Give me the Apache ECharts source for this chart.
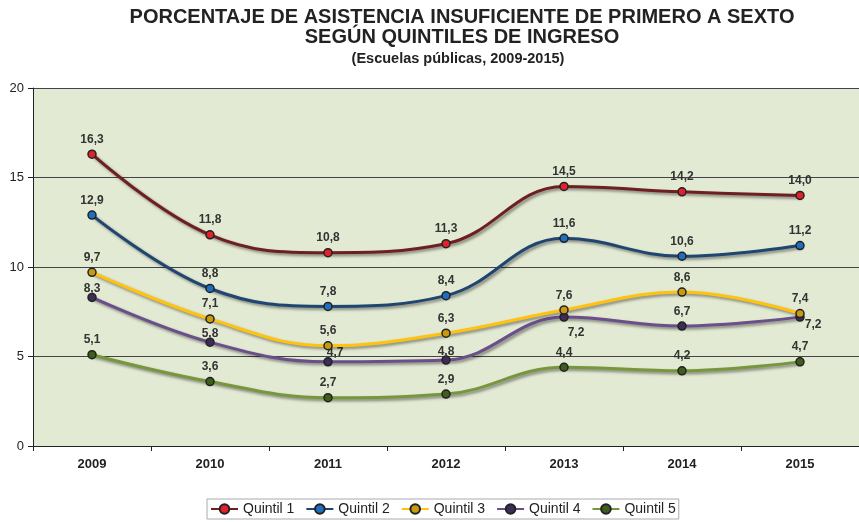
<!DOCTYPE html>
<html>
<head>
<meta charset="utf-8">
<script src="https://cdn.jsdelivr.net/npm/echarts@6/dist/echarts.min.js"></script>
<style>
html, body { margin: 0; padding: 0; background: #fff; }
#main { width: 859px; height: 522px; }
</style>
</head>
<body>
<div id="main"></div>
<script>
// datos
var years = ['2009', '2010', '2011', '2012', '2013', '2014', '2015'];
var names = ['Quintil 1', 'Quintil 2', 'Quintil 3', 'Quintil 4', 'Quintil 5'];
var q1 = [16.3, 11.8, 10.8, 11.3, 14.5, 14.2, 14.0];
var q2 = [12.9, 8.8, 7.8, 8.4, 11.6, 10.6, 11.2];
var q3 = [9.7, 7.1, 5.6, 6.3, 7.6, 8.6, 7.4];
var q4 = [8.3, 5.8, 4.7, 4.8, 7.2, 6.7, 7.2];
var q5 = [5.1, 3.6, 2.7, 2.9, 4.4, 4.2, 4.7];
var yTicks = [0, 5, 10, 15, 20];

var lineColors = ['#6e1f22', '#1f4570', '#ffc20e', '#6a4f8a', '#77973c'];
var dotColors = ['#e3202b', '#1e6fc0', '#c89a10', '#3d2c58', '#3f5e1c'];

// etiquetas especiales del quintil 4
var q4Labels = {
  0: { distance: -2 },
  1: { distance: -2 },
  2: { position: 'right', distance: 0, offset: [-6, -9] },
  3: { distance: -2 },
  4: { position: 'bottom', distance: 5, offset: [12, 0] },
  6: { position: 'right', distance: 0, offset: [0, 8] }
};

var makeSeries = function (i, values) {
  var data = values.map(function (v, j) {
    if (i === 3 && q4Labels[j]) {
      return { value: v, label: q4Labels[j] };
    }
    return v;
  });
  return {
    name: names[i],
    type: 'line',
    smooth: 0.4,
    data: data,
    symbol: 'circle',
    symbolSize: 8,
    lineStyle: {
      width: 3,
      color: lineColors[i],
      shadowColor: 'rgba(0,0,0,0.45)',
      shadowBlur: 3,
      shadowOffsetX: 2,
      shadowOffsetY: 2
    },
    itemStyle: {
      color: dotColors[i],
      borderColor: '#222',
      borderWidth: 1.5
    },
    label: {
      show: true,
      position: 'top',
      distance: 4,
      fontFamily: 'Liberation Sans, Arial, sans-serif',
      fontSize: 12,
      fontWeight: 'bold',
      color: '#333',
      formatter: function (p) {
        return p.value.toFixed(1).replace('.', ',');
      }
    },
    z: 10 - i
  };
};

var chart = echarts.init(document.getElementById('main'));
chart.setOption({
  backgroundColor: '#fff',
  animation: false,
  title: [{
    text: 'PORCENTAJE DE ASISTENCIA INSUFICIENTE DE PRIMERO A SEXTO\nSEGÚN QUINTILES DE INGRESO',
    left: 457,
    top: 2,
    textAlign: 'center',
    textStyle: {
      fontFamily: 'Liberation Sans Narrow, Arial Narrow, Liberation Sans, sans-serif',
      fontSize: 20,
      fontWeight: 'bold',
      color: '#222',
      lineHeight: 20
    }
  }, {
    text: '(Escuelas públicas, 2009-2015)',
    left: 453,
    top: 46,
    textAlign: 'center',
    textStyle: {
      fontFamily: 'Liberation Sans Narrow, Arial Narrow, Liberation Sans, sans-serif',
      fontSize: 14.5,
      fontWeight: 'bold',
      color: '#222'
    }
  }],
  legend: {
    data: names,
    left: 207,
    top: 499,
    padding: [3, 3],
    itemGap: 11,
    itemWidth: 27,
    itemHeight: 12,
    borderColor: '#aaa',
    borderWidth: 1,
    textStyle: {
      fontFamily: 'Liberation Sans, Arial, sans-serif',
      fontSize: 14,
      color: '#222'
    }
  },
  grid: {
    left: 33,
    right: -6,
    top: 88,
    bottom: 76,
    show: true,
    backgroundColor: '#e3ead4',
    borderWidth: 0
  },
  xAxis: {
    type: 'category',
    data: years,
    boundaryGap: true,
    axisLine: { lineStyle: { color: '#222', width: 1 } },
    axisTick: { show: true, length: 5, lineStyle: { color: '#222' } },
    axisLabel: {
      fontFamily: 'Liberation Sans, Arial, sans-serif',
      fontSize: 13,
      fontWeight: 'bold',
      color: '#222',
      margin: 12
    }
  },
  yAxis: {
    type: 'value',
    min: yTicks[0],
    max: yTicks[yTicks.length - 1],
    interval: 5,
    axisLine: { show: true, lineStyle: { color: '#222', width: 1 } },
    axisTick: { show: true, length: 5, lineStyle: { color: '#222' } },
    axisLabel: {
      fontFamily: 'Liberation Sans, Arial, sans-serif',
      fontSize: 13,
      color: '#222',
      margin: 9
    },
    splitLine: { show: true, lineStyle: { color: '#444', width: 1 } }
  },
  series: [
    makeSeries(0, q1),
    makeSeries(1, q2),
    makeSeries(2, q3),
    makeSeries(3, q4),
    makeSeries(4, q5)
  ]
});
</script>
</body>
</html>
